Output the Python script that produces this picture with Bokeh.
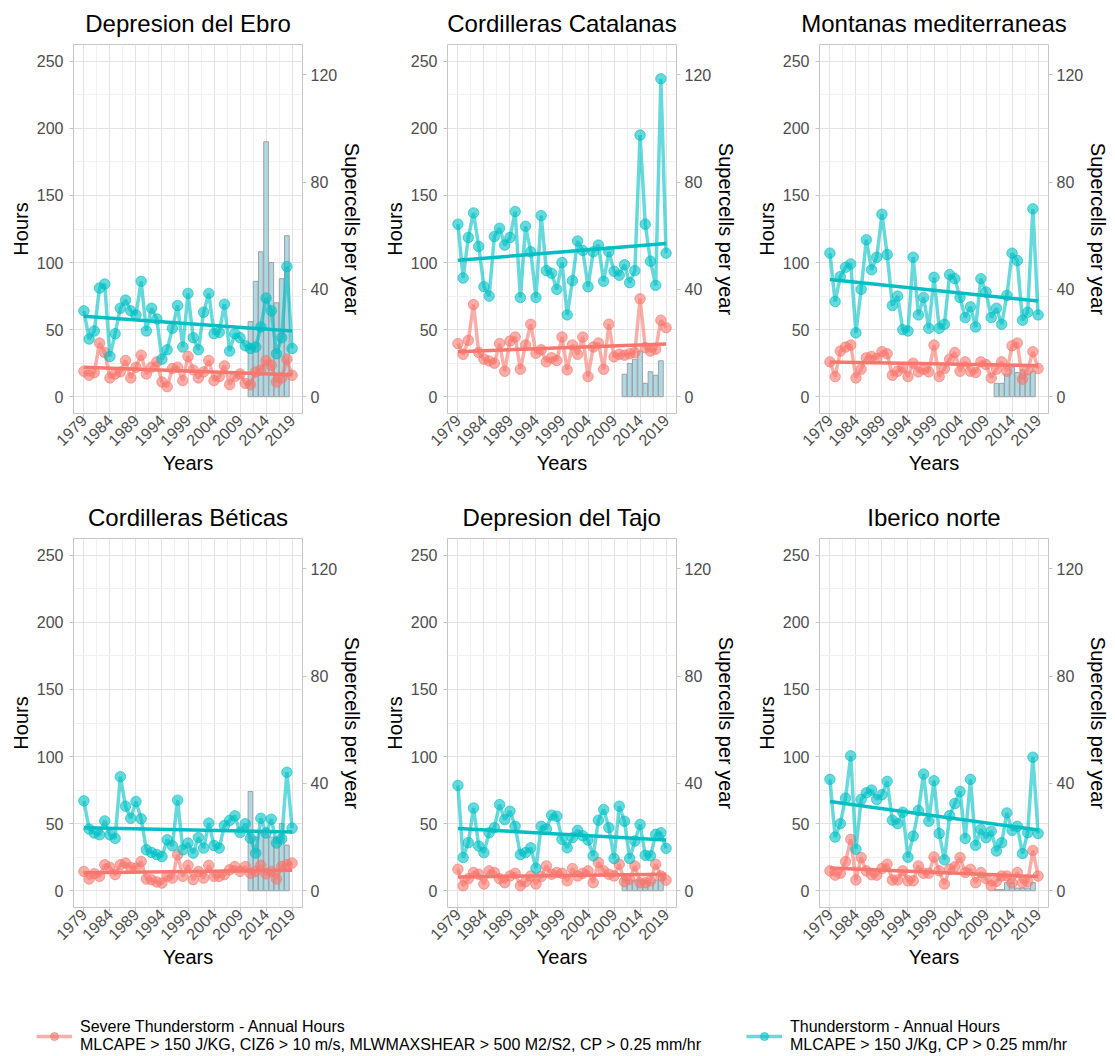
import math
import numpy as np
from bokeh.plotting import figure
from bokeh.models import Range1d, LinearAxis, FixedTicker, Legend, LegendItem
from bokeh.layouts import column, row
from bokeh.embed import file_html
from bokeh.resources import INLINE

# ---------------- data ----------------
years = list(range(1979, 2020))
sc_years = list(range(2011, 2019))
x_ticks = [1979, 1984, 1989, 1994, 1999, 2004, 2009, 2014, 2019]
x_minor = [1976.5, 1981.5, 1986.5, 1991.5, 1996.5, 2001.5, 2006.5, 2011.5, 2016.5, 2021.5]
hour_ticks = [0, 50, 100, 150, 200, 250]
hour_minor = [25, 75, 125, 175, 225]
sc_ticks = [0, 40, 80, 120]

titles = ["Depresion del Ebro", "Cordilleras Catalanas", "Montanas mediterraneas",
          "Cordilleras Béticas", "Depresion del Tajo", "Iberico norte"]

ebro_thunder = [64, 43, 49, 81, 84, 30, 47, 66, 72, 64, 61, 86, 49, 66, 58, 28, 35, 51, 68, 37,
                77, 44, 35, 63, 77, 47, 48, 69, 34, 47, 44, 38, 36, 37, 52, 73.5, 64, 32, 44, 97, 36]
ebro_severe = [19, 16, 18, 40, 33, 14, 17, 18.5, 27, 14, 22, 31, 17, 22, 26, 11, 7.5, 21, 22, 12,
               30, 20, 14, 18.5, 27, 12, 15, 23, 9, 15, 17, 10, 9, 18.5, 20, 27, 23.5, 11, 14, 28, 16]
ebro_supercells = [28, 43, 54, 95, 50, 35, 44, 60]

cat_thunder = [128.6, 88.5, 118.7, 137, 112, 82, 75, 119.4, 125.6, 113, 118.7, 138, 74, 127, 108, 74,
               135, 94, 92, 80, 100, 61, 86.5, 116, 109, 82, 108, 113, 86, 108, 93.5, 90.5, 98.4, 85,
               94, 195, 128.6, 101, 83, 237, 107]
cat_severe = [39.6, 31.6, 42, 68.7, 33, 28, 26.7, 25, 39.6, 19, 41.5, 44.5, 20.5, 38.6, 54, 32.4, 35,
              26, 29, 27, 44.5, 20, 38.6, 31.6, 44.5, 15, 37, 40, 20.5, 54, 29.7, 31.6, 31, 32, 33, 73,
              36.6, 34, 35.4, 57, 51.4]
cat_supercells = [8.4, 12.4, 14, 17, 5, 9.3, 8, 13.4]

mon_thunder = [107, 71, 89.6, 96.5, 99, 47.6, 80, 117, 94.6, 104, 136, 106, 68, 75, 50, 49, 104, 61,
               74, 51, 89, 51, 54, 91, 88, 74, 59, 67, 52, 88, 78, 59, 66, 54, 75.5, 107, 101.5, 57,
               63, 140, 61]
mon_severe = [26, 15, 34, 37, 38.5, 14, 20.5, 29, 30, 28.6, 33.6, 32, 16, 19, 21.7, 15, 25, 18.5,
              20.5, 18.5, 38.5, 15, 21, 28, 33, 19, 26, 19, 18, 26, 24, 14, 20.5, 26, 19, 38, 40, 13,
              20, 33.6, 21]
mon_supercells = [5, 5, 8.5, 11, 9, 10, 8.5, 9.5]

bet_thunder = [67, 46, 43, 41.7, 52, 41.7, 39, 85, 63, 54, 66.5, 53.6, 30.5, 28.5, 27, 25.5, 38, 33.5,
               67.5, 30.5, 35.5, 28, 39.7, 31.8, 50.4, 33.7, 31.8, 48.6, 52.4, 55.8, 43.4, 49.9, 39.2,
               28, 54, 43, 53.3, 35.5, 38.7, 88.3, 46.6]
bet_severe = [14.4, 8.7, 12.7, 10.7, 19.4, 17.4, 12, 19.4, 20.6, 17.4, 16.9, 21.8, 8.7, 8.2, 6.5, 5.7,
              10.7, 9.4, 26.8, 10.7, 18.9, 8.2, 14.4, 9.4, 18.9, 10.7, 10.7, 12, 15.6, 18, 14.4, 18,
              13, 14.4, 18.9, 12.6, 14.4, 8.7, 18, 19.4, 20.6]
bet_supercells = [37, 20, 22, 21, 20, 20, 25, 17]

taj_thunder = [78.5, 24.7, 35.8, 61.7, 33.3, 28.4, 43.2, 47, 64.2, 53, 59.3, 48, 27, 28.4, 32, 16.8,
               48, 46, 56.3, 55.5, 38.3, 32, 39.5, 45, 41, 37.8, 26, 52.6, 60.5, 47, 24, 63, 51.8, 24,
               37, 49.4, 26.4, 26, 42, 43.2, 31.6]
taj_severe = [16, 3.7, 9, 13.6, 12.3, 5, 14.8, 13.6, 9, 6, 11, 13, 3.7, 6.7, 11, 5, 10.6, 18.5, 12.3,
              13.6, 13, 7.4, 16.5, 11, 13, 14.8, 6, 21, 14.8, 12.3, 11, 19.8, 6.7, 8.6, 18.5, 6, 6,
              7.4, 19.8, 11, 7.9]
taj_supercells = [6, 4, 4, 4, 4, 3, 4, 6]

ibe_thunder = [83, 40, 50, 69, 100.5, 31, 68, 73, 75, 68, 71.6, 81.5, 52.6, 50, 58.5, 25, 40.7, 59.8,
               87, 51.8, 82, 42.7, 23, 56, 65, 74, 39, 83, 33.8, 45.7, 39.5, 44.4, 29.6, 35.8, 58, 45,
               48, 27.7, 43.2, 99.5, 42.7]
ibe_severe = [14.8, 11.6, 13, 21.7, 38.3, 8, 24.7, 14.8, 11.9, 11.6, 16.5, 19.8, 8, 8, 14.8, 7.4, 7.4,
              18.5, 13, 13, 25.2, 14.8, 5, 16, 17.8, 24.7, 13.6, 16, 6, 13.6, 9, 3.7, 7, 11, 11, 5.7,
              13.6, 6, 6.7, 30, 11]
ibe_supercells = [0.5, 0.5, 3, 3, 1, 1, 1, 3]

legend_severe = ("Severe Thunderstorm - Annual Hours\n"
                 "MLCAPE > 150 J/KG, CIZ6 > 10 m/s, MLWMAXSHEAR > 500 M2/S2, CP > 0.25 mm/hr")
legend_thunder = "Thunderstorm - Annual Hours\nMLCAPE > 150 J/Kg, CP > 0.25 mm/hr"

# ---------------- style ----------------
RED = "#F8766D"
CYAN = "#00BFC4"
FONT = "Liberation Sans"
GRID_MAJOR = "#e3e3e3"
GRID_MINOR = "#f0f0f0"
BORDER = "#c4c4c4"
TICKLAB = "#4d4d4d"


def make_panel(title, thunder, severe, supercells, w, lb, rb):
    p = figure(width=w, height=494, x_range=Range1d(1977, 2021), y_range=Range1d(-12.5, 262.5),
               output_backend="svg", toolbar_location=None,
               min_border_left=lb, min_border_right=rb, min_border_top=43, min_border_bottom=81)
    p.extra_y_ranges = {"sc": Range1d(-6.25, 131.25)}
    p.background_fill_color = "white"
    p.border_fill_color = "white"
    p.outline_line_color = BORDER
    p.outline_line_width = 1

    p.title.text = title
    p.title.align = "center"
    p.title.text_font = FONT
    p.title.text_font_size = "24px"
    p.title.text_font_style = "normal"
    p.title.text_color = "black"
    p.title.standoff = 15

    p.xaxis.ticker = FixedTicker(ticks=x_ticks, minor_ticks=x_minor)
    p.yaxis.ticker = FixedTicker(ticks=hour_ticks, minor_ticks=hour_minor)
    p.xaxis.major_label_orientation = math.pi / 4
    p.xaxis.axis_label = "Years"
    p.yaxis.axis_label = "Hours"

    right = LinearAxis(y_range_name="sc", ticker=FixedTicker(ticks=sc_ticks),
                       axis_label="Supercells per year")
    p.add_layout(right, "right")

    for ax in p.axis:
        ax.axis_line_color = None
        ax.major_tick_line_color = BORDER
        ax.major_tick_out = 4
        ax.major_tick_in = 0
        ax.minor_tick_line_color = None
        ax.major_label_text_font = FONT
        ax.major_label_text_font_size = "16px"
        ax.major_label_text_color = TICKLAB
        ax.axis_label_text_font = FONT
        ax.axis_label_text_font_size = "20px"
        ax.axis_label_text_font_style = "normal"
        ax.axis_label_text_color = "black"
    p.yaxis[0].major_label_standoff = 6
    p.yaxis[0].axis_label_standoff = 2
    right.major_label_standoff = 4
    right.axis_label_standoff = 1
    p.xaxis.major_label_standoff = 0
    p.xaxis.axis_label_standoff = -2

    for g in p.grid:
        g.grid_line_color = GRID_MAJOR
        g.grid_line_width = 1
        g.minor_grid_line_color = GRID_MINOR
        g.minor_grid_line_width = 1

    # supercell bars (secondary axis)
    p.vbar(x=sc_years, top=supercells, width=0.9, y_range_name="sc",
           fill_color="#a9d6e3", fill_alpha=0.95, line_color="#a0a0a0", line_width=1)

    yr = np.array(years, dtype=float)
    for vals, col in ((severe, RED), (thunder, CYAN)):
        p.line(years, vals, line_color=col, line_alpha=0.6, line_width=3.5)
        p.scatter(years, vals, size=10.5, fill_color=col, line_color=col, fill_alpha=0.6, line_alpha=0.6)
        k, b = np.polyfit(yr, np.array(vals, dtype=float), 1)
        p.line([years[0], years[-1]], [k * years[0] + b, k * years[-1] + b],
               line_color=col, line_width=3.5)
    return p


panels = [
    make_panel(titles[0], ebro_thunder, ebro_severe, ebro_supercells, 373, 73, 71),
    make_panel(titles[1], cat_thunder, cat_severe, cat_supercells, 373, 74, 70),
    make_panel(titles[2], mon_thunder, mon_severe, mon_supercells, 367, 73, 65),
    make_panel(titles[3], bet_thunder, bet_severe, bet_supercells, 373, 73, 71),
    make_panel(titles[4], taj_thunder, taj_severe, taj_supercells, 373, 74, 70),
    make_panel(titles[5], ibe_thunder, ibe_severe, ibe_supercells, 367, 73, 65),
]

# ---------------- legend strip ----------------
nan = [float("nan")]
lf = figure(width=1113, height=66, x_range=Range1d(0, 1), y_range=Range1d(0, 1),
            output_backend="svg", toolbar_location=None, min_border=0)
lf.outline_line_color = None
lf.axis.visible = False
lf.grid.visible = False
rl = lf.line(x=nan, y=nan, line_color=RED, line_alpha=0.6, line_width=3.5)
rs = lf.scatter(x=nan, y=nan, size=10.5, fill_color=RED, line_color=RED, fill_alpha=0.6, line_alpha=0.6)
cl = lf.line(x=nan, y=nan, line_color=CYAN, line_alpha=0.6, line_width=3.5)
cs = lf.scatter(x=nan, y=nan, size=10.5, fill_color=CYAN, line_color=CYAN, fill_alpha=0.6, line_alpha=0.6)

for label, rends, loc in ((legend_severe, [rl, rs], (36, 0)), (legend_thunder, [cl, cs], (746, 0))):
    leg = Legend(items=[LegendItem(label=label, renderers=rends)], location=loc,
                 border_line_color=None, background_fill_alpha=0, padding=0, margin=0,
                 glyph_width=36, glyph_height=20, label_standoff=8,
                 label_text_font=FONT, label_text_font_size="16px", label_text_color="black")
    lf.add_layout(leg)

layout = column(row(*panels[:3]), row(*panels[3:]), lf)

open("out.html", "w").write(file_html(layout, INLINE))
